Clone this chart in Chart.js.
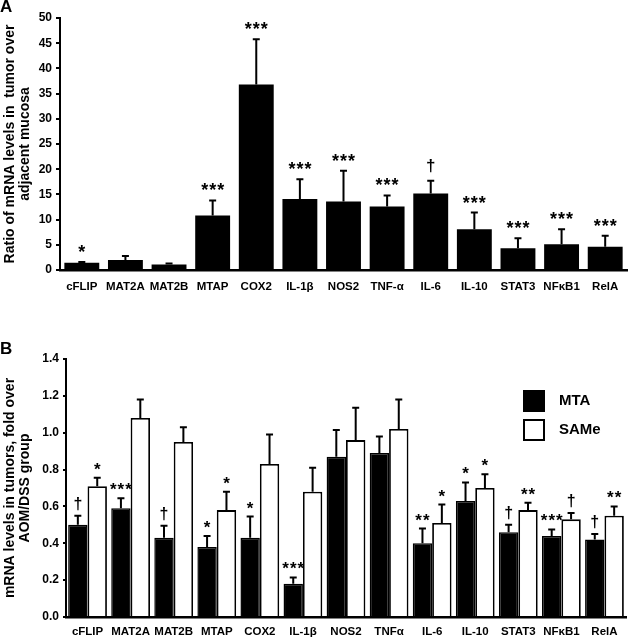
<!DOCTYPE html>
<html>
<head>
<meta charset="utf-8">
<script src="https://cdn.jsdelivr.net/npm/chart.js@4.4.1/dist/chart.umd.min.js"></script>
<style>
  body { margin: 0; background: #fff; width: 640px; height: 638px; overflow: hidden; position: relative; }
  canvas { position: absolute; left: 0; }
</style>
</head>
<body>
<canvas id="chartA" width="640" height="308" style="top:0"></canvas>
<canvas id="chartB" width="640" height="330" style="top:308px"></canvas>
<script>
// --- Panel A: tumor / adjacent mucosa ---
var genesA = ['cFLIP', 'MAT2A', 'MAT2B', 'MTAP', 'COX2', 'IL-1β', 'NOS2', 'TNF-α', 'IL-6', 'IL-10', 'STAT3', 'NFκB1', 'RelA']
var ratioA = [1.45, 2.0, 1.1, 10.8, 36.8, 14.1, 13.6, 12.6, 15.2, 8.1, 4.3, 5.1, 4.6]
var ratioAErr = [0.15, 0.8, 0.2, 3.0, 9.0, 3.9, 6.1, 2.2, 2.5, 3.3, 2.0, 3.0, 2.2]
var sigA = ['*', '', '', '***', '***', '***', '***', '***', '†', '***', '***', '***', '***']
var ticksA = [0, 5, 10, 15, 20, 25, 30, 35, 40, 45, 50]

// --- Panel B: fold over AOM/DSS group ---
var genesB = ['cFLIP', 'MAT2A', 'MAT2B', 'MTAP', 'COX2', 'IL-1β', 'NOS2', 'TNFα', 'IL-6', 'IL-10', 'STAT3', 'NFκB1', 'RelA']
var mta = [0.50, 0.59, 0.43, 0.38, 0.43, 0.18, 0.87, 0.89, 0.40, 0.63, 0.46, 0.44, 0.42]
var mtaErr = [0.05, 0.055, 0.065, 0.06, 0.115, 0.035, 0.145, 0.09, 0.08, 0.10, 0.04, 0.035, 0.03]
var sigMta = ['†', '***', '†', '*', '*', '***', '', '', '**', '*', '†', '***', '†']
var same = [0.71, 1.08, 0.95, 0.58, 0.83, 0.68, 0.96, 1.02, 0.51, 0.70, 0.58, 0.53, 0.55]
var sameErr = [0.045, 0.10, 0.08, 0.10, 0.16, 0.13, 0.175, 0.16, 0.10, 0.075, 0.04, 0.035, 0.05]
var sigSame = ['*', '', '', '*', '', '', '', '', '*', '*', '**', '†', '**']
var ticksB = [0, 0.2, 0.4, 0.6, 0.8, 1.0, 1.2, 1.4]

var FONT = '"Liberation Sans", Arial, sans-serif'
Chart.defaults.font.family = FONT
Chart.defaults.color = '#000'

// error bars + significance marks, drawn after the bars
var errorBars = {
  id: 'errorBars',
  afterDatasetsDraw(chart, args, opts) {
    var ctx = chart.ctx
    var y = chart.scales.y
    chart.data.datasets.forEach((ds, di) => {
      var meta = chart.getDatasetMeta(di)
      meta.data.forEach((bar, i) => {
        var top = y.getPixelForValue(ds.data[i] + ds.errors[i])
        ctx.save()
        ctx.strokeStyle = '#000'
        ctx.lineWidth = 2
        ctx.beginPath()
        ctx.moveTo(bar.x, bar.y)
        ctx.lineTo(bar.x, top)
        ctx.moveTo(bar.x - 3.5, top)
        ctx.lineTo(bar.x + 3.5, top)
        ctx.stroke()
        var s = ds.signif[i]
        if (s) {
          ctx.fillStyle = '#000'
          ctx.textAlign = 'center'
          ctx.textBaseline = 'alphabetic'
          if (s == '†') {
            ctx.font = 'bold ' + opts.daggerSize + 'px ' + FONT
            ctx.fillText(s, bar.x, top - opts.daggerGap)
          } else {
            ctx.font = 'bold ' + opts.starSize + 'px ' + FONT
            ctx.letterSpacing = '1px'
            ctx.fillText(s, bar.x + 0.5, top - opts.starGap)
          }
        }
        ctx.restore()
      })
    })
  }
}

// panel letter + optional legend boxes
var extras = {
  id: 'extras',
  afterDraw(chart, args, opts) {
    var ctx = chart.ctx
    ctx.save()
    ctx.fillStyle = '#000'
    ctx.font = 'bold 17px ' + FONT
    ctx.textBaseline = 'alphabetic'
    ctx.fillText(opts.letter, 0, opts.letterY)
    if (opts.legend) {
      ctx.font = 'bold 15px ' + FONT
      ctx.textBaseline = 'middle'
      chart.data.datasets.forEach((ds, di) => {
        var ly = opts.legendY + di * 29
        ctx.fillStyle = ds.backgroundColor
        ctx.fillRect(523, ly, 22, 22)
        ctx.strokeStyle = '#000'
        ctx.lineWidth = 2
        ctx.strokeRect(524, ly + 1, 20, 20)
        ctx.fillStyle = '#000'
        ctx.fillText(ds.label, 559, ly + 11)
      })
    }
    ctx.restore()
  }
}

function yAxis(min, max, step, width, title, fmt, tickLen) {
  return {
    min: min, max: max,
    afterFit: s => { s.width = width },
    afterBuildTicks: s => { s.ticks = (max > 2 ? ticksA : ticksB).map(v => ({ value: v })) },
    ticks: { stepSize: step, padding: 4, font: { size: 12, weight: 'bold' }, callback: fmt },
    grid: { display: true, drawOnChartArea: false, drawTicks: true, tickLength: tickLen, color: '#000', lineWidth: 2 },
    border: { display: true, color: '#000', width: 2 },
    title: { display: true, text: title, padding: { top: 2, bottom: 0 }, font: { size: 14, weight: 'bold', lineHeight: 1.12 } }
  }
}

function xAxis(height, pad) {
  return {
    afterFit: s => { s.height = height },
    ticks: { padding: pad, autoSkip: false, maxRotation: 0, font: { size: 11.5, weight: 'bold' } },
    grid: { display: false, drawTicks: false },
    border: { display: true, color: '#000', width: 2.5 }
  }
}

// chart A
new Chart(document.getElementById('chartA'), {
  type: 'bar',
  data: {
    labels: genesA,
    datasets: [{
      label: 'ratio',
      data: ratioA,
      errors: ratioAErr,
      signif: sigA,
      backgroundColor: '#000',
      borderWidth: 0,
      barPercentage: 0.8,
      categoryPercentage: 1
    }]
  },
  options: {
    responsive: false,
    animation: false,
    layout: { padding: { top: 18, right: 13, left: 0, bottom: 0 } },
    plugins: {
      legend: { display: false },
      tooltip: { enabled: false },
      errorBars: { starSize: 18, starGap: 4, daggerSize: 17, daggerGap: 10 },
      extras: { letter: 'A', letterY: 12 }
    },
    scales: {
      x: xAxis(38, 10),
      y: yAxis(0, 50, 5, 60, ['Ratio of mRNA levels in  tumor over', 'adjacent mucosa'], v => v, 4)
    }
  },
  plugins: [errorBars, extras]
})

// chart B
new Chart(document.getElementById('chartB'), {
  type: 'bar',
  data: {
    labels: genesB,
    datasets: [{
      label: 'MTA',
      data: mta,
      errors: mtaErr,
      signif: sigMta,
      backgroundColor: '#000',
      borderColor: '#000',
      borderWidth: 1.5,
      barPercentage: 1,
      categoryPercentage: 0.9
    }, {
      label: 'SAMe',
      data: same,
      errors: sameErr,
      signif: sigSame,
      backgroundColor: '#fff',
      borderColor: '#000',
      borderWidth: 1.8,
      barPercentage: 1,
      categoryPercentage: 0.9
    }]
  },
  options: {
    responsive: false,
    animation: false,
    layout: { padding: { top: 51, right: 14, left: 0, bottom: 0 } },
    plugins: {
      legend: { display: false },
      tooltip: { enabled: false },
      errorBars: { starSize: 17, starGap: 3, daggerSize: 16, daggerGap: 7 },
      extras: { letter: 'B', letterY: 46, legend: true, legendY: 82 }
    },
    scales: {
      x: xAxis(21, 8),
      y: yAxis(0, 1.4, 0.2, 66, ['mRNA levels in tumors, fold over', 'AOM/DSS group'], v => Number(v).toFixed(1), 3)
    }
  },
  plugins: [errorBars, extras]
})
</script>
</body>
</html>
